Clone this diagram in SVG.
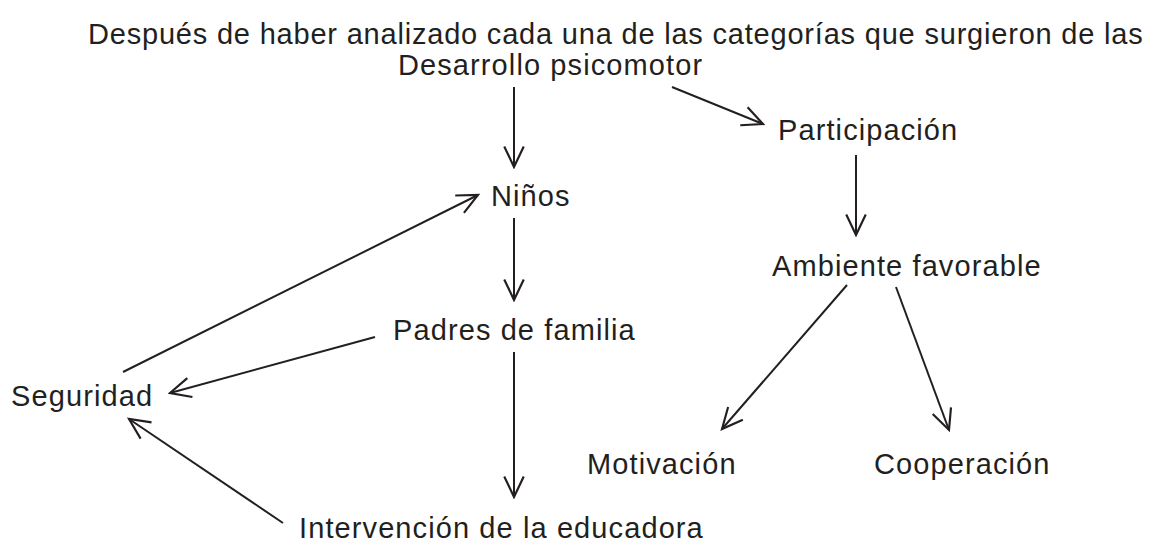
<svg xmlns="http://www.w3.org/2000/svg" width="1153" height="543" viewBox="0 0 1153 543">
<defs>
<style>
text{font-family:"Liberation Sans",Arial,sans-serif;font-size:29px;letter-spacing:1.1px;fill:#231f20}
#title text{letter-spacing:0.8px}
.c line{stroke:#231f20;stroke-width:2;fill:none;marker-end:url(#ah)}
</style>
<marker id="ah" markerUnits="userSpaceOnUse" markerWidth="26" markerHeight="26" viewBox="-22 -11 24 22" refX="0" refY="0" orient="auto">
<path d="M-19,-9 L0,0 L-19,9" fill="none" stroke="#231f20" stroke-width="2"/>
</marker>
</defs>
<rect width="1153" height="543" fill="#fff"/>
<g id="title"><text x="88" y="44">Después de haber analizado cada una de las categorías que surgieron de las</text></g>
<g id="n-desarrollo"><text x="398" y="75">Desarrollo psicomotor</text></g>
<g id="n-participacion"><text x="778" y="140">Participación</text></g>
<g id="n-ninos"><text x="491" y="206">Niños</text></g>
<g id="n-padres"><text x="393" y="340">Padres de familia</text></g>
<g id="n-seguridad"><text x="11" y="406">Seguridad</text></g>
<g id="n-ambiente"><text x="772" y="276">Ambiente favorable</text></g>
<g id="n-motivacion"><text x="587" y="474">Motivación</text></g>
<g id="n-cooperacion"><text x="874" y="474">Cooperación</text></g>
<g id="n-intervencion"><text x="299" y="538">Intervención de la educadora</text></g>
<g class="c" id="connectors">
<line x1="514" y1="87" x2="514" y2="167"/>
<line x1="672" y1="87" x2="763" y2="124"/>
<line x1="856" y1="155" x2="856" y2="235"/>
<line x1="514" y1="218" x2="514" y2="300"/>
<line x1="375" y1="337" x2="170" y2="393"/>
<line x1="123" y1="372" x2="478" y2="195"/>
<line x1="514" y1="352" x2="514" y2="497"/>
<line x1="283" y1="523" x2="129" y2="419"/>
<line x1="847" y1="285" x2="722" y2="429"/>
<line x1="896" y1="287" x2="949" y2="430"/>
</g>
</svg>
